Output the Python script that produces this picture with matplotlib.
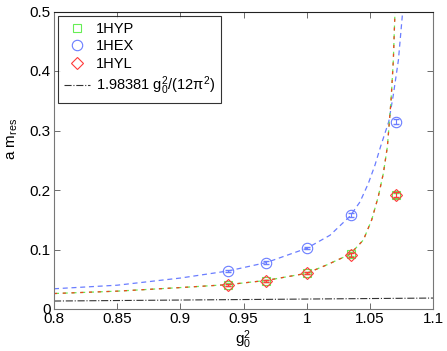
import numpy as np
import matplotlib
matplotlib.use("Agg")
import matplotlib.pyplot as plt

plt.rcParams['font.family'] = ['Liberation Sans', 'DejaVu Sans']
plt.rcParams['mathtext.fontset'] = 'custom'
plt.rcParams['mathtext.rm'] = 'Liberation Sans'
plt.rcParams['mathtext.it'] = 'Liberation Sans'

# measured points (x = g0^2)
g2_pts = [0.938, 0.968, 1.0, 1.035, 1.071]
hex_pts = [0.064, 0.078, 0.103, 0.158, 0.315]
hyp_pts = [0.041, 0.047, 0.061, 0.092, 0.191]
hyl_pts = [0.040, 0.047, 0.060, 0.091, 0.192]
err_pts = [0.002, 0.002, 0.002, 0.003, 0.004]

# fit curves
hex_fit_x = [0.80, 0.85, 0.90, 0.938, 0.968, 1.0, 1.0185, 1.0343, 1.0422, 1.0488,
             1.0541, 1.0585, 1.0650, 1.0686, 1.0726, 1.0760]
hex_fit_y = [0.034, 0.040, 0.052, 0.064, 0.078, 0.102, 0.124, 0.156, 0.180, 0.211,
             0.242, 0.273, 0.315, 0.360, 0.418, 0.500]
hyl_fit_x = [0.80, 0.85, 0.90, 0.938, 0.968, 1.0, 1.0158, 1.0343, 1.0449, 1.0515,
             1.0567, 1.0607, 1.0639, 1.0668, 1.0686, 1.0699]
hyl_fit_y = [0.026, 0.030, 0.036, 0.041, 0.048, 0.060, 0.074, 0.092, 0.116, 0.150,
             0.189, 0.228, 0.273, 0.351, 0.418, 0.500]

# 1.98381 g0^2/(12 pi^2) line ends
pt_x = [0.8, 1.1]
pt_y = [0.0134, 0.0184]

c_green = '#66ee55'
c_blue = '#6a7dff'
c_red = '#ff3a3a'

fig = plt.figure(figsize=(4.47, 3.51), dpi=100)
ax = fig.add_axes([54/447, 1-309/351, (433-54)/447, (309-11.5)/351])

ax.plot(hex_fit_x, hex_fit_y, color=c_blue, lw=0.9, dashes=(4, 3))
ax.plot(hyl_fit_x, hyl_fit_y, color=c_green, lw=0.9, dashes=(4, 3))
ax.plot(hyl_fit_x, hyl_fit_y, color='#ee4422', lw=0.9, dashes=(2.5, 4.5))

ax.errorbar(g2_pts, hyp_pts, yerr=err_pts, fmt='none', ecolor=c_green,
            capsize=2, elinewidth=0.8)
ax.errorbar(g2_pts, hex_pts, yerr=err_pts, fmt='none', ecolor=c_blue,
            capsize=2, elinewidth=0.8)
ax.errorbar(g2_pts, hyl_pts, yerr=err_pts, fmt='none', ecolor=c_red,
            capsize=2, elinewidth=0.8)
h1, = ax.plot(g2_pts, hyp_pts, 's', mfc='none', mec=c_green, ms=5.5, mew=0.8, label='1HYP')
h2, = ax.plot(g2_pts, hex_pts, 'o', mfc='none', mec=c_blue, ms=7.5, mew=0.8, label='1HEX')
h3, = ax.plot(g2_pts, hyl_pts, 'D', mfc='none', mec=c_red, ms=6, mew=0.8, label='1HYL')
h4, = ax.plot(pt_x, pt_y, '-.', color='#333333', lw=0.8, label=r'1.98381 g$_0^2$/(12$\pi^2$)')

ax.set_xlim(0.8, 1.1)
ax.set_ylim(0, 0.5)
ax.set_xticks([0.8, 0.85, 0.9, 0.95, 1.0, 1.05, 1.1])
ax.set_xticklabels(['0.8', '0.85', '0.9', '0.95', '1', '1.05', '1.1'])
ax.set_yticks([0, 0.1, 0.2, 0.3, 0.4, 0.5])
ax.set_yticklabels(['0', '0.1', '0.2', '0.3', '0.4', '0.5'])
ax.tick_params(direction='in', top=True, right=True, labelsize=11, length=4, width=0.6,
               color='#555555', pad=2.5)
for s in ax.spines.values():
    s.set_color('#777777')
    s.set_linewidth(0.8)
ax.spines['top'].set_color('#222222')

ax.set_xlabel(r'g$_0^2$', fontsize=11)
ax.xaxis.set_label_coords(0.5, -0.065)
ax.set_ylabel(r'a m$_{\rm res}$', fontsize=11)
ax.yaxis.set_label_coords(-0.09, 0.57)

leg = ax.legend(handles=[h1, h2, h3, h4], loc='upper left', fontsize=10.5, frameon=True,
                fancybox=False, edgecolor='black', borderpad=0.4, handlelength=1.8,
                handletextpad=0.35, labelspacing=0.25, borderaxespad=0.3)
leg.get_frame().set_linewidth(0.8)

fig.savefig('out.png', dpi=100)
